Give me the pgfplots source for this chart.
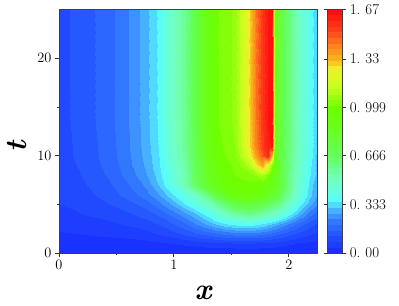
\documentclass[border=0pt]{standalone}
\usepackage{pgfplots}
\pgfplotsset{compat=1.18}
\begin{document}
\begin{tikzpicture}[x=1bp,y=1bp]
\useasboundingbox (0,0) rectangle (399,306);
\begin{axis}[
  at={(59bp,53bp)},anchor=south west,
  width=258.5bp,height=243.5bp,scale only axis,
  view={0}{90},
  xmin=0,xmax=2.25,ymin=0,ymax=25,
  point meta min=0,point meta max=1.67,
  colormap={base}{[1pt]
    rgb255(0pt)=(25,50,255) rgb255(100pt)=(35,80,255) rgb255(200pt)=(50,120,255)
    rgb255(260pt)=(65,160,255) rgb255(320pt)=(80,220,255) rgb255(360pt)=(90,255,245)
    rgb255(500pt)=(115,255,190) rgb255(666pt)=(100,255,90) rgb255(850pt)=(105,255,30)
    rgb255(999pt)=(110,255,0) rgb255(1150pt)=(200,255,30) rgb255(1270pt)=(240,240,40)
    rgb255(1330pt)=(250,185,30) rgb255(1450pt)=(255,120,30) rgb255(1550pt)=(255,60,25)
    rgb255(1670pt)=(255,15,15)},
  colormap={bands}{samples of colormap={43 of base}},
  colormap access=piecewise constant,
  xtick={0,1,2},ytick={0,10,20},
  minor xtick={0.5,1.5},minor ytick={5,15},
  tick align=outside,tick pos=left,
  major tick length=4bp,minor tick length=2bp,
  axis line style={draw=black!75,line width=0.9bp},
  tick style={draw=black!80,line width=0.8bp},
  tick label style={font=\fontsize{15}{17}\selectfont},
  xlabel={\textbf{\textit{x}}},
  ylabel={\textbf{\textit{t}}},
  xlabel style={font=\fontsize{30}{32}\selectfont,inner sep=0pt,at={(axis description cs:0.56,-0.135)},anchor=north},
  ylabel style={font=\fontsize{30}{32}\selectfont,inner sep=0pt,at={(axis description cs:-0.125,0.44)},anchor=south},
  colorbar,
  colorbar style={
    at={(1.04,1)},anchor=north west,
    width=14.5bp,height=243.5bp,
    ytick={0,0.333,0.666,0.999,1.33,1.67},
    yticklabels={0.\,\,00,0.\,\,333,0.\,\,666,0.\,\,999,1.\,\,33,1.\,\,67},
    ymin=0,ymax=1.67,
    tick align=outside,major tick length=4bp,
    tick style={draw=black!80,line width=0.8bp},
    minor tick num=0,
    yticklabel style={font=\fontsize{15}{17}\selectfont},
    axis line style={draw=black!75,line width=0.9bp},
  },
]
\addplot3[surf,shader=interp,mesh/rows=14,mesh/cols=29] coordinates {
(0,0,0) (.113,0,0) (.226,0,0) (.340,0,0) (.505,0,0) (.627,0,0) (.723,0,0) (.801,0,0) (.871,0,0) (.967,0,0) (1.098,0,0) (1.185,0,0) (1.272,0,0) (1.359,0,0) (1.446,0,0) (1.533,0,0) (1.620,0,0) (1.664,0,0) (1.707,0,0) (1.768,0,0) (1.821,0,0) (1.855,0,0) (1.868,0,0) (1.890,0,0) (1.925,0,0) (2.012,0,0) (2.099,0,0) (2.186,0,0) (2.25,0,0)

(0,1,.015) (.113,1,.016) (.226,1,.017) (.340,1,.018) (.505,1,.02) (.627,1,.023) (.723,1,.026) (.801,1,.03) (.871,1,.033) (.967,1,.04) (1.098,1,.05) (1.185,1,.058) (1.272,1,.065) (1.359,1,.07) (1.446,1,.075) (1.533,1,.078) (1.620,1,.08) (1.664,1,.08) (1.707,1,.078) (1.768,1,.075) (1.821,1,.07) (1.855,1,.066) (1.868,1,.065) (1.890,1,.06) (1.925,1,.056) (2.012,1,.046) (2.099,1,.037) (2.186,1,.03) (2.25,1,.025)

(0,2,.035) (.113,2,.037) (.226,2,.04) (.340,2,.045) (.505,2,.05) (.627,2,.055) (.723,2,.06) (.801,2,.07) (.871,2,.08) (.967,2,.095) (1.098,2,.125) (1.185,2,.145) (1.272,2,.165) (1.359,2,.185) (1.446,2,.20) (1.533,2,.21) (1.620,2,.215) (1.664,2,.215) (1.707,2,.21) (1.768,2,.20) (1.821,2,.19) (1.855,2,.18) (1.868,2,.175) (1.890,2,.165) (1.925,2,.155) (2.012,2,.125) (2.099,2,.10) (2.186,2,.08) (2.25,2,.065)

(0,3,.05) (.113,3,.055) (.226,3,.06) (.340,3,.065) (.505,3,.075) (.627,3,.085) (.723,3,.095) (.801,3,.105) (.871,3,.12) (.967,3,.145) (1.098,3,.19) (1.185,3,.23) (1.272,3,.27) (1.359,3,.31) (1.446,3,.345) (1.533,3,.365) (1.620,3,.37) (1.664,3,.37) (1.707,3,.365) (1.768,3,.345) (1.821,3,.325) (1.855,3,.31) (1.868,3,.305) (1.890,3,.29) (1.925,3,.27) (2.012,3,.22) (2.099,3,.17) (2.186,3,.13) (2.25,3,.11)

(0,4,.065) (.113,4,.07) (.226,4,.08) (.340,4,.085) (.505,4,.10) (.627,4,.115) (.723,4,.13) (.801,4,.145) (.871,4,.165) (.967,4,.20) (1.098,4,.26) (1.185,4,.30) (1.272,4,.36) (1.359,4,.43) (1.446,4,.50) (1.533,4,.56) (1.620,4,.59) (1.664,4,.59) (1.707,4,.58) (1.768,4,.55) (1.821,4,.52) (1.855,4,.50) (1.868,4,.49) (1.890,4,.47) (1.925,4,.44) (2.012,4,.36) (2.099,4,.28) (2.186,4,.21) (2.25,4,.17)

(0,5,.078) (.113,5,.085) (.226,5,.095) (.340,5,.105) (.505,5,.125) (.627,5,.145) (.723,5,.165) (.801,5,.19) (.871,5,.22) (.967,5,.27) (1.098,5,.35) (1.185,5,.41) (1.272,5,.47) (1.359,5,.55) (1.446,5,.64) (1.533,5,.72) (1.620,5,.75) (1.664,5,.75) (1.707,5,.74) (1.768,5,.71) (1.821,5,.67) (1.855,5,.64) (1.868,5,.63) (1.890,5,.61) (1.925,5,.57) (2.012,5,.46) (2.099,5,.36) (2.186,5,.28) (2.25,5,.24)

(0,6,.082) (.113,6,.09) (.226,6,.105) (.340,6,.12) (.505,6,.15) (.627,6,.18) (.723,6,.205) (.801,6,.235) (.871,6,.27) (.967,6,.33) (1.098,6,.41) (1.185,6,.49) (1.272,6,.58) (1.359,6,.72) (1.446,6,.85) (1.533,6,.93) (1.620,6,.95) (1.664,6,.95) (1.707,6,.94) (1.768,6,.90) (1.821,6,.85) (1.855,6,.80) (1.868,6,.79) (1.890,6,.76) (1.925,6,.69) (2.012,6,.54) (2.099,6,.42) (2.186,6,.32) (2.25,6,.27)

(0,7,.086) (.113,7,.10) (.226,7,.115) (.340,7,.13) (.505,7,.165) (.627,7,.20) (.723,7,.23) (.801,7,.27) (.871,7,.315) (.967,7,.39) (1.098,7,.53) (1.185,7,.66) (1.272,7,.78) (1.359,7,.88) (1.446,7,.95) (1.533,7,.99) (1.620,7,1.00) (1.664,7,1.00) (1.707,7,.99) (1.768,7,.96) (1.821,7,.91) (1.855,7,.87) (1.868,7,.86) (1.890,7,.83) (1.925,7,.76) (2.012,7,.58) (2.099,7,.44) (2.186,7,.33) (2.25,7,.28)

(0,8,.09) (.113,8,.105) (.226,8,.122) (.340,8,.14) (.505,8,.18) (.627,8,.22) (.723,8,.25) (.801,8,.29) (.871,8,.335) (.967,8,.41) (1.098,8,.54) (1.185,8,.67) (1.272,8,.80) (1.359,8,.92) (1.446,8,.98) (1.533,8,1.01) (1.620,8,1.02) (1.664,8,1.03) (1.707,8,1.05) (1.768,8,1.10) (1.821,8,1.02) (1.855,8,.93) (1.868,8,.90) (1.890,8,.85) (1.925,8,.76) (2.012,8,.58) (2.099,8,.46) (2.186,8,.35) (2.25,8,.30)

(0,9,.095) (.113,9,.11) (.226,9,.13) (.340,9,.15) (.505,9,.19) (.627,9,.23) (.723,9,.265) (.801,9,.305) (.871,9,.345) (.967,9,.43) (1.098,9,.55) (1.185,9,.68) (1.272,9,.82) (1.359,9,.94) (1.446,9,.99) (1.533,9,1.02) (1.620,9,1.08) (1.664,9,1.13) (1.707,9,1.24) (1.768,9,1.36) (1.821,9,1.20) (1.855,9,1.02) (1.868,9,.95) (1.890,9,.88) (1.925,9,.77) (2.012,9,.59) (2.099,9,.47) (2.186,9,.36) (2.25,9,.30)

(0,10,.098) (.113,10,.115) (.226,10,.135) (.340,10,.155) (.505,10,.195) (.627,10,.235) (.723,10,.272) (.801,10,.31) (.871,10,.35) (.967,10,.45) (1.098,10,.56) (1.185,10,.69) (1.272,10,.84) (1.359,10,.96) (1.446,10,1.01) (1.533,10,1.04) (1.620,10,1.15) (1.664,10,1.24) (1.707,10,1.35) (1.768,10,1.48) (1.821,10,1.58) (1.855,10,1.30) (1.868,10,1.00) (1.890,10,.82) (1.925,10,.73) (2.012,10,.59) (2.099,10,.47) (2.186,10,.37) (2.25,10,.30)

(0,11,.10) (.113,11,.116) (.226,11,.136) (.340,11,.156) (.505,11,.197) (.627,11,.237) (.723,11,.276) (.801,11,.315) (.871,11,.355) (.967,11,.46) (1.098,11,.57) (1.185,11,.70) (1.272,11,.86) (1.359,11,.98) (1.446,11,1.02) (1.533,11,1.05) (1.620,11,1.19) (1.664,11,1.29) (1.707,11,1.40) (1.768,11,1.53) (1.821,11,1.62) (1.855,11,1.64) (1.868,11,1.12) (1.890,11,.84) (1.925,11,.74) (2.012,11,.60) (2.099,11,.48) (2.186,11,.38) (2.25,11,.31)

(0,14,.10) (.113,14,.12) (.226,14,.14) (.340,14,.16) (.505,14,.20) (.627,14,.24) (.723,14,.28) (.801,14,.32) (.871,14,.36) (.967,14,.47) (1.098,14,.58) (1.185,14,.72) (1.272,14,.88) (1.359,14,1.00) (1.446,14,1.03) (1.533,14,1.06) (1.620,14,1.20) (1.664,14,1.30) (1.707,14,1.42) (1.768,14,1.55) (1.821,14,1.64) (1.855,14,1.66) (1.868,14,1.15) (1.890,14,.85) (1.925,14,.74) (2.012,14,.60) (2.099,14,.48) (2.186,14,.38) (2.25,14,.31)

(0,25,.10) (.113,25,.12) (.226,25,.14) (.340,25,.16) (.505,25,.20) (.627,25,.24) (.723,25,.28) (.801,25,.32) (.871,25,.36) (.967,25,.47) (1.098,25,.58) (1.185,25,.72) (1.272,25,.88) (1.359,25,1.00) (1.446,25,1.03) (1.533,25,1.06) (1.620,25,1.20) (1.664,25,1.30) (1.707,25,1.42) (1.768,25,1.55) (1.821,25,1.64) (1.855,25,1.66) (1.868,25,1.15) (1.890,25,.85) (1.925,25,.74) (2.012,25,.60) (2.099,25,.48) (2.186,25,.38) (2.25,25,.31)
};
\end{axis}
\end{tikzpicture}
\end{document}
